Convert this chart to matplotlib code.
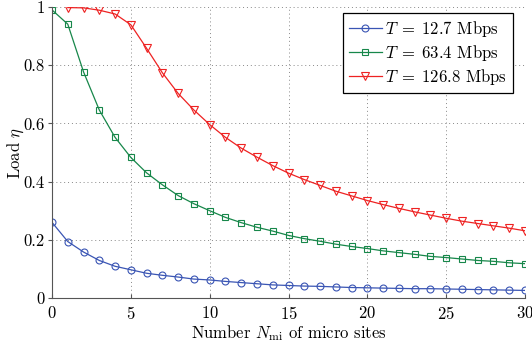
import numpy as np
import matplotlib.pyplot as plt

plt.rcParams['font.family'] = 'serif'
plt.rcParams['font.serif'] = ['cmr10', 'DejaVu Serif']
plt.rcParams['mathtext.fontset'] = 'cm'
plt.rcParams['axes.formatter.use_mathtext'] = True

n = np.arange(0, 31)
n_red = np.arange(1, 31)

load_12 = [0.260, 0.194, 0.158, 0.129, 0.109, 0.097, 0.085, 0.078, 0.072, 0.065,
           0.062, 0.057, 0.053, 0.049, 0.045, 0.043, 0.041, 0.040, 0.038, 0.036,
           0.035, 0.034, 0.033, 0.032, 0.032, 0.031, 0.030, 0.029, 0.028, 0.027,
           0.026]
load_63 = [0.990, 0.941, 0.777, 0.646, 0.552, 0.483, 0.430, 0.389, 0.352, 0.324,
           0.300, 0.277, 0.259, 0.243, 0.230, 0.215, 0.204, 0.195, 0.185, 0.177,
           0.170, 0.162, 0.156, 0.150, 0.143, 0.139, 0.134, 0.129, 0.126, 0.121,
           0.118]
load_126 = [0.998, 0.997, 0.989, 0.976, 0.939, 0.858, 0.774, 0.703, 0.646,
            0.596, 0.552, 0.515, 0.484, 0.455, 0.429, 0.407, 0.387, 0.367, 0.351,
            0.335, 0.321, 0.308, 0.296, 0.285, 0.274, 0.264, 0.256, 0.248, 0.240,
            0.231]

fig = plt.figure(figsize=(5.32, 3.45), dpi=100)
ax = fig.add_axes([52/532, 1 - 298/345, 473/532, 291/345])

ax.plot(n, load_12, '-o', color='#3a55b4', lw=0.9, ms=5, mfc='none', mew=0.8,
        label=r'$T\;=\;12.7$ Mbps')
ax.plot(n, load_63, '-s', color='#17874a', lw=0.9, ms=5, mfc='none', mew=0.8,
        label=r'$T\;=\;63.4$ Mbps')
ax.plot(n_red, load_126, '-v', color='#ee2222', lw=0.9, ms=6, mfc='none', mew=0.8,
        label=r'$T\;=\;126.8$ Mbps')

ax.set_xlim(0, 30)
ax.set_ylim(0, 1)
ax.set_xticks([0, 5, 10, 15, 20, 25, 30])
ax.set_yticks([0, 0.2, 0.4, 0.6, 0.8, 1])
ax.set_yticklabels(['0', '0.2', '0.4', '0.6', '0.8', '1'])
ax.grid(True, linestyle=(0, (1, 3)), color='#888888', lw=0.7)
ax.tick_params(labelsize=12, length=3, color='#555555')
ax.tick_params(axis='x', direction='in', pad=5)
ax.tick_params(axis='y', direction='out', pad=2)
for s in ['top', 'right']:
    ax.spines[s].set_visible(False)
ax.spines['left'].set_color('#555555')
ax.spines['bottom'].set_color('#555555')

ax.set_xlabel(r'Number $N_{\rm mi}$ of micro sites', fontsize=12, labelpad=1)
ax.set_ylabel(r'Load $\eta$', fontsize=12)
ax.yaxis.set_label_coords(-0.056, 0.5)

leg = ax.legend(loc='upper right', bbox_to_anchor=(0.975, 0.98), fontsize=12,
                fancybox=False, framealpha=1, edgecolor='black',
                handlelength=2.0, borderpad=0.35, labelspacing=0.25,
                handletextpad=0.2, numpoints=1, borderaxespad=0)
leg.get_frame().set_linewidth(0.9)

fig.savefig('out.png', dpi=100)
